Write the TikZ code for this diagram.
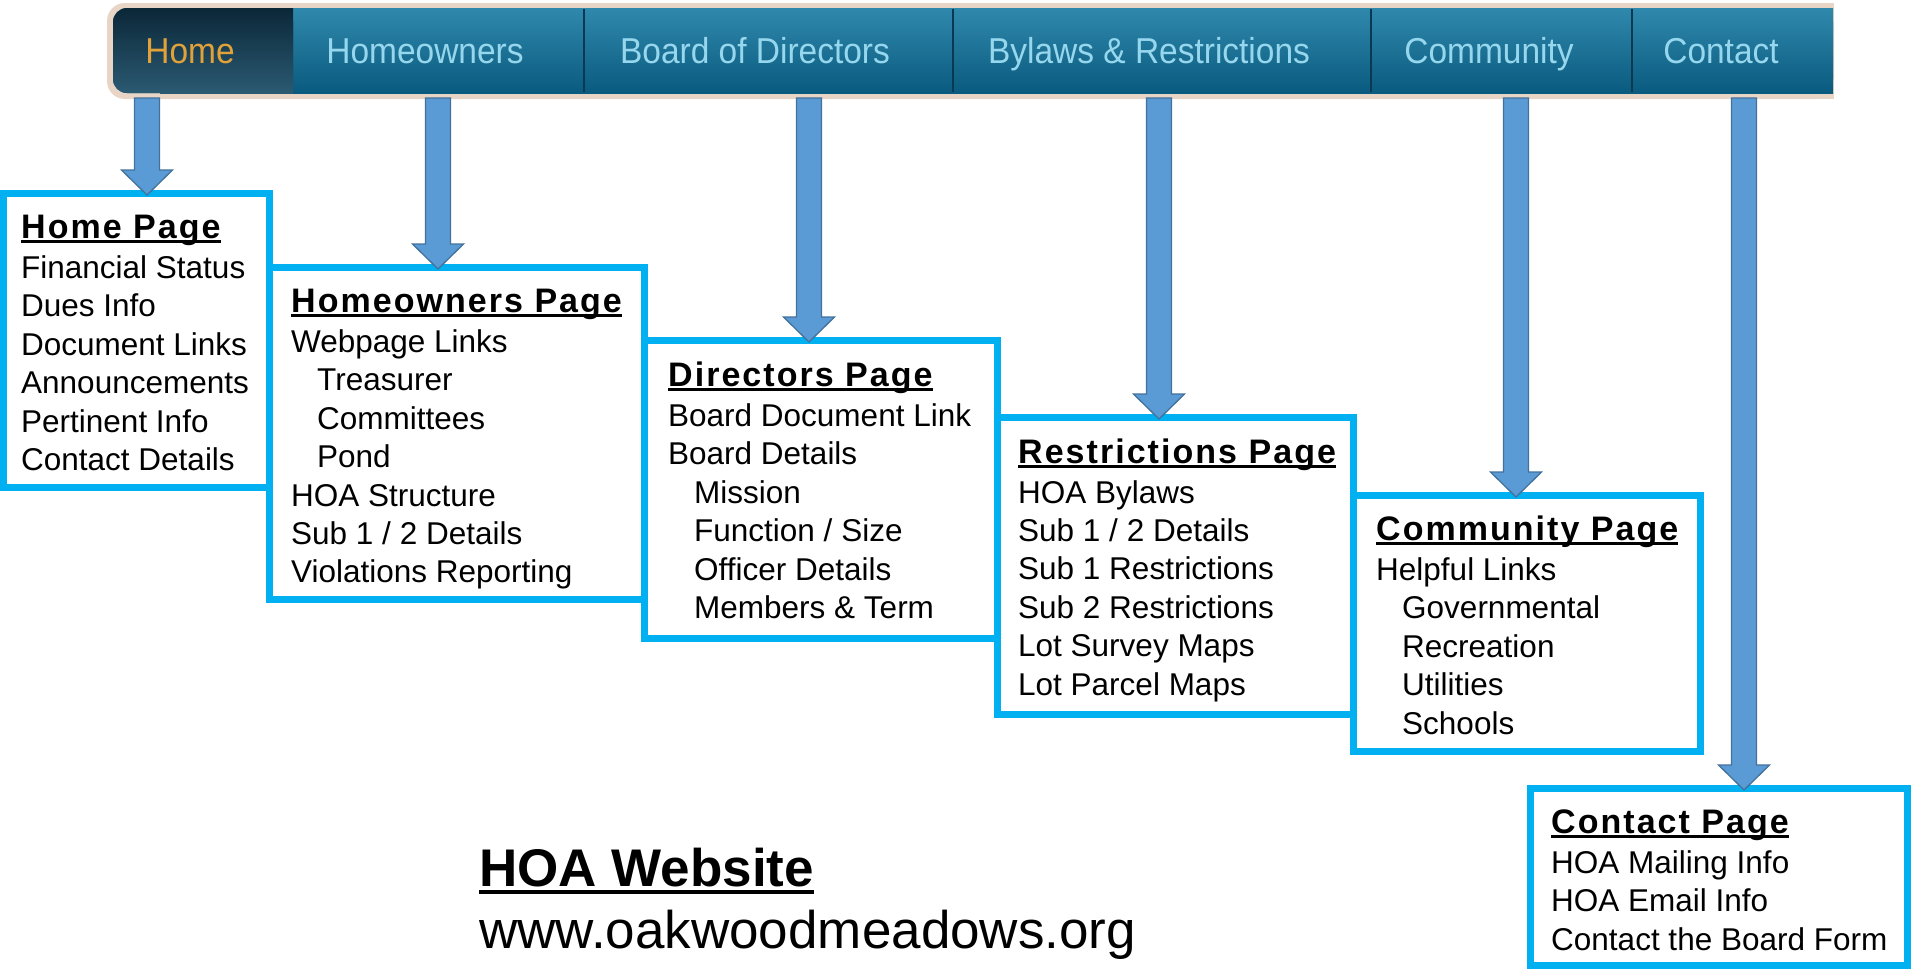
\documentclass[tikz,border=0pt]{standalone}
\usepackage{fontspec}
\setmainfont{Liberation Sans}
\newfontfamily\navfont{Liberation Sans}[FakeStretch=0.93]
\newfontfamily\headfont{Liberation Sans}[LetterSpace=6]
\usetikzlibrary{calc}

\definecolor{boxblue}{HTML}{00B0F0}
\definecolor{arrowfill}{HTML}{5B9BD5}
\definecolor{arrowline}{HTML}{41719C}
\definecolor{bartop}{HTML}{2F89AC}
\definecolor{barbot}{HTML}{0A5A7F}
\definecolor{hometop}{HTML}{0B2738}
\definecolor{homebot}{HTML}{2B5A72}
\definecolor{navtext}{HTML}{96D7EE}
\definecolor{hometext}{HTML}{E2A23A}
\definecolor{barrim}{HTML}{E8D5C5}
\definecolor{barsep}{HTML}{0A3A52}

% underlined heading with the rule sitting just below the baseline
\newcommand\headline[1]{\leavevmode\setbox0\hbox{#1}\rlap{\rule[-4.8pt]{\wd0}{3pt}}\box0}
% list of one page's contents: heading, then one entry per line
\newcommand\pagelist[2]{\parbox[t]{380pt}{\fontsize{31.5}{38.4}\selectfont\raggedright
  {\headfont\bfseries\fontsize{34}{38.4}\selectfont\headline{#1}}\\[1.6pt]#2}}
\newcommand\subentry{\hspace*{26pt}}
% block arrow from a point under the menu bar down onto a box
\newcommand\blockarrow[2]{%
  \draw[barrow] ($(#1)+(-12.5,0)$) -- ($(#2)+(-12.5,-20)$) -- ($(#2)+(-25.5,-20)$)
    -- ($(#2)+(0,5)$) -- ($(#2)+(25.5,-20)$) -- ($(#2)+(12.5,-20)$)
    -- ($(#1)+(12.5,0)$) -- cycle;}

\tikzset{
  pagebox/.style={draw=boxblue, line width=7pt, inner sep=0pt, anchor=north west, fill=white},
  pagetext/.style={anchor=base west, inner sep=0pt, text=black},
  navlabel/.style={font=\navfont\fontsize{36}{40}\selectfont, text=navtext, anchor=base, inner sep=0pt},
  barrow/.style={fill=arrowfill, draw=arrowline, line width=1.3pt, line join=miter},
  barshade/.style={top color=bartop, bottom color=barbot},
  homeshade/.style={top color=hometop, bottom color=homebot},
}

\begin{document}
\begin{tikzpicture}[x=1pt, y=-1pt]
\useasboundingbox (0,0) rectangle (1911,970);
\fill[white] (0,0) rectangle (1911,970);

% ---- menu bar ----
\fill[barrim, rounded corners=18] (107,3) rectangle (1834,99);
\fill[barrim] (160,3) rectangle (1834,99);
\shade[barshade, rounded corners=14] (113,8) rectangle (1833,93);
\shade[barshade] (160,8) rectangle (1833,93);
\shade[homeshade, rounded corners=14] (113,8) rectangle (293,93);
\shade[homeshade] (160,8) rectangle (293,93);
\foreach \sx in {584,953,1371,1632}
  \draw[barsep, line width=1.6pt] (\sx,9) -- (\sx,92);

\node[navlabel, text=hometext] (navhome) at (190,63) {Home};
\node[navlabel] (navowners) at (425,63) {Homeowners};
\node[navlabel] (navboard) at (755,63) {Board of Directors};
\node[navlabel] (navbylaws) at (1149,63) {Bylaws \& Restrictions};
\node[navlabel] (navcommunity) at (1489,63) {Community};
\node[navlabel] (navcontact) at (1721,63) {Contact};

% ---- page boxes ----
\node[pagebox, minimum width=266pt, minimum height=294pt] (b1) at (0,190) {};
\node[pagebox, minimum width=375pt, minimum height=332pt] (b2) at (266,264) {};
\node[pagebox, minimum width=353pt, minimum height=298pt] (b3) at (641,337) {};
\node[pagebox, minimum width=356pt, minimum height=297pt] (b4) at (994,414) {};
\node[pagebox, minimum width=347pt, minimum height=256pt] (b5) at (1350,492) {};
\node[pagebox, minimum width=377pt, minimum height=177pt] (b6) at (1527,785) {};

\node[pagetext] (t1) at ($(b1.north west)+(21,48.5)$) {\pagelist{Home Page}{%
  Financial Status\\ Dues Info\\ Document Links\\ Announcements\\ Pertinent Info\\ Contact Details}};
\node[pagetext] (t2) at ($(b2.north west)+(25,48.5)$) {\pagelist{Homeowners Page}{%
  Webpage Links\\ \subentry Treasurer\\ \subentry Committees\\ \subentry Pond\\
  HOA Structure\\ Sub 1 / 2 Details\\ Violations Reporting}};
\node[pagetext] (t3) at ($(b3.north west)+(27,49.5)$) {\pagelist{Directors Page}{%
  Board Document Link\\ Board Details\\ \subentry Mission\\ \subentry Function / Size\\
  \subentry Officer Details\\ \subentry Members \& Term}};
\node[pagetext] (t4) at ($(b4.north west)+(24,49)$) {\pagelist{Restrictions Page}{%
  HOA Bylaws\\ Sub 1 / 2 Details\\ Sub 1 Restrictions\\ Sub 2 Restrictions\\
  Lot Survey Maps\\ Lot Parcel Maps}};
\node[pagetext] (t5) at ($(b5.north west)+(26,48.5)$) {\pagelist{Community Page}{%
  Helpful Links\\ \subentry Governmental\\ \subentry Recreation\\ \subentry Utilities\\ \subentry Schools}};
\node[pagetext] (t6) at ($(b6.north west)+(24,48.5)$) {\pagelist{Contact Page}{%
  HOA Mailing Info\\ HOA Email Info\\ Contact the Board Form}};

% ---- arrows from the menu entries to their pages ----
\coordinate (a1) at (147,98);
\coordinate (a2) at (438,98);
\coordinate (a3) at (809,98);
\coordinate (a4) at (1159,98);
\coordinate (a5) at (1516,98);
\coordinate (a6) at (1744,98);
\blockarrow{a1}{a1 |- b1.north}
\blockarrow{a2}{a2 |- b2.north}
\blockarrow{a3}{a3 |- b3.north}
\blockarrow{a4}{a4 |- b4.north}
\blockarrow{a5}{a5 |- b5.north}
\blockarrow{a6}{a6 |- b6.north}

% ---- site caption ----
\node[anchor=base west, inner sep=0pt, font=\fontsize{53}{60}\selectfont\bfseries] (sitetitle)
  at (479,886) {\setbox0\hbox{HOA Website}\rlap{\rule[-8pt]{\wd0}{4pt}}\box0};
\node[anchor=base west, inner sep=0pt, font=\fontsize{53}{60}\selectfont] (siteurl)
  at (479,948) {www.oakwoodmeadows.org};
\end{tikzpicture}
\end{document}
